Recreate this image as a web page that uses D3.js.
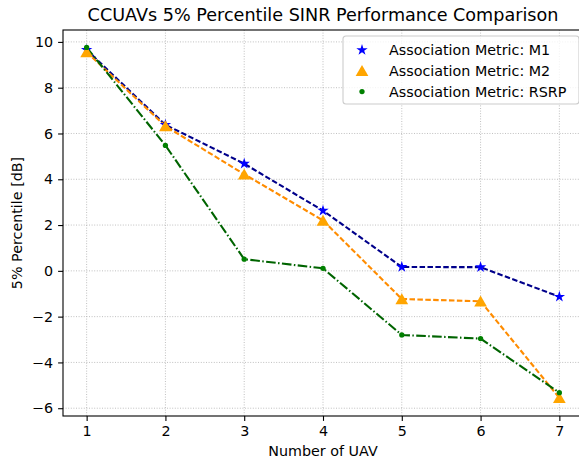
<!DOCTYPE html>
<html>
<head>
<meta charset="utf-8">
<script src="https://cdn.jsdelivr.net/npm/d3@7"></script>
<style>
  body { margin: 0; background: #fff; }
  svg { font-family: "DejaVu Sans", sans-serif; }
</style>
</head>
<body>
<svg width="579" height="464"></svg>
<script>
// Données
const uavCounts = [1, 2, 3, 4, 5, 6, 7];
const sinrM1 = [9.65, 6.38, 4.68, 2.63, 0.17, 0.16, -1.13];
const sinrM2 = [9.56, 6.32, 4.22, 2.2, -1.23, -1.33, -5.55];
const sinrRSRP = [9.76, 5.48, 0.51, 0.11, -2.8, -2.96, -5.32];
const xTicks = [1, 2, 3, 4, 5, 6, 7];
const yTicks = [-6, -4, -2, 0, 2, 4, 6, 8, 10];

const series = [
  { label: "Association Metric: M1", values: sinrM1, line: "#00008b", marker: "#0000ff", shape: "star", dash: "5.5,2.4" },
  { label: "Association Metric: M2", values: sinrM2, line: "#ff8c00", marker: "#ffa500", shape: "triangle", dash: "5.5,2.4" },
  { label: "Association Metric: RSRP", values: sinrRSRP, line: "#006400", marker: "#008000", shape: "circle", dash: "9.6,2.4,1.5,2.4" }
];

const svg = d3.select("svg"),
      margin = { top: 30, left: 63, right: 583, bottom: 416 };

const x = d3.scaleLinear().domain([0.7, 7.3]).range([margin.left, margin.right]);
const y = d3.scaleLinear().domain([-6.34, 10.52]).range([margin.bottom, margin.top]);

// Grille
svg.append("g").selectAll("line")
  .data(xTicks).enter().append("line")
  .attr("x1", d => x(d)).attr("x2", d => x(d))
  .attr("y1", margin.top).attr("y2", margin.bottom)
  .attr("stroke", "#b0b0b0").attr("stroke-width", 0.8)
  .attr("stroke-dasharray", "1,1.6");

svg.append("g").selectAll("line")
  .data(yTicks).enter().append("line")
  .attr("x1", margin.left).attr("x2", margin.right)
  .attr("y1", d => y(d)).attr("y2", d => y(d))
  .attr("stroke", "#b0b0b0").attr("stroke-width", 0.8)
  .attr("stroke-dasharray", "1,1.6");

// Axes
const xAxis = svg.append("g")
  .attr("transform", `translate(0,${margin.bottom})`)
  .call(d3.axisBottom(x).tickValues(xTicks).tickSize(4.9).tickPadding(4.9).tickFormat(d3.format("d")));

const yAxis = svg.append("g")
  .attr("transform", `translate(${margin.left},0)`)
  .call(d3.axisLeft(y).tickValues(yTicks).tickSize(4.9).tickPadding(4.9).tickFormat(d => d < 0 ? "\u2212" + Math.abs(d) : d));

[xAxis, yAxis].forEach(a => {
  a.select(".domain").remove();
  a.selectAll(".tick line").attr("stroke", "#000").attr("stroke-width", 1.1);
  a.selectAll(".tick text").attr("font-size", 14.3).attr("fill", "#000")
    .attr("font-family", "DejaVu Sans");
});

// Cadre
svg.append("rect")
  .attr("x", margin.left).attr("y", margin.top)
  .attr("width", margin.right - margin.left).attr("height", margin.bottom - margin.top)
  .attr("fill", "none").attr("stroke", "#000").attr("stroke-width", 1.1);

// Symboles
function symbolPath(shape) {
  if (shape === "star") return d3.symbol(d3.symbolStar, 40)();
  if (shape === "triangle") return d3.symbol(d3.symbolTriangle, 70)();
  return d3.symbol(d3.symbolCircle, 22)();
}

const line = d3.line()
  .x((d, i) => x(uavCounts[i]))
  .y(d => y(d));

series.forEach(s => {
  svg.append("path")
    .datum(s.values)
    .attr("d", line)
    .attr("fill", "none")
    .attr("stroke", s.line)
    .attr("stroke-width", 2.1)
    .attr("stroke-dasharray", s.dash);
});

series.forEach(s => {
  svg.append("g").selectAll("path")
    .data(s.values).enter().append("path")
    .attr("d", symbolPath(s.shape))
    .attr("transform", (d, i) => `translate(${x(uavCounts[i])},${y(d) + (s.shape === "triangle" ? 1.5 : 0)})`)
    .attr("fill", s.marker);
});

// Titre et libellés
svg.append("text")
  .attr("x", (margin.left + margin.right) / 2).attr("y", 21)
  .attr("text-anchor", "middle").attr("font-size", 17.6)
  .text("CCUAVs 5% Percentile SINR Performance Comparison");

svg.append("text")
  .attr("x", (margin.left + margin.right) / 2).attr("y", 456)
  .attr("text-anchor", "middle").attr("font-size", 14.3)
  .text("Number of UAV");

svg.append("text")
  .attr("transform", `translate(22,${(margin.top + margin.bottom) / 2}) rotate(-90)`)
  .attr("text-anchor", "middle").attr("font-size", 14.3)
  .text("5% Percentile [dB]");

// Légende
const legend = svg.append("g").attr("transform", "translate(343,36)");
legend.append("rect")
  .attr("width", 236).attr("height", 68).attr("rx", 3)
  .attr("fill", "#fff").attr("fill-opacity", 0.8)
  .attr("stroke", "#cccccc").attr("stroke-width", 1.1);

const item = legend.selectAll(".legend-item")
  .data(series).enter().append("g")
  .attr("class", "legend-item")
  .attr("transform", (d, i) => `translate(0,${14 + i * 20.8})`);

item.append("path")
  .attr("d", d => symbolPath(d.shape))
  .attr("transform", d => `translate(19,${d.shape === "triangle" ? 1.5 : 0})`)
  .attr("fill", d => d.marker);

item.append("text")
  .attr("x", 46).attr("dy", "0.35em")
  .attr("font-size", 14.3)
  .text(d => d.label);
</script>
</body>
</html>
